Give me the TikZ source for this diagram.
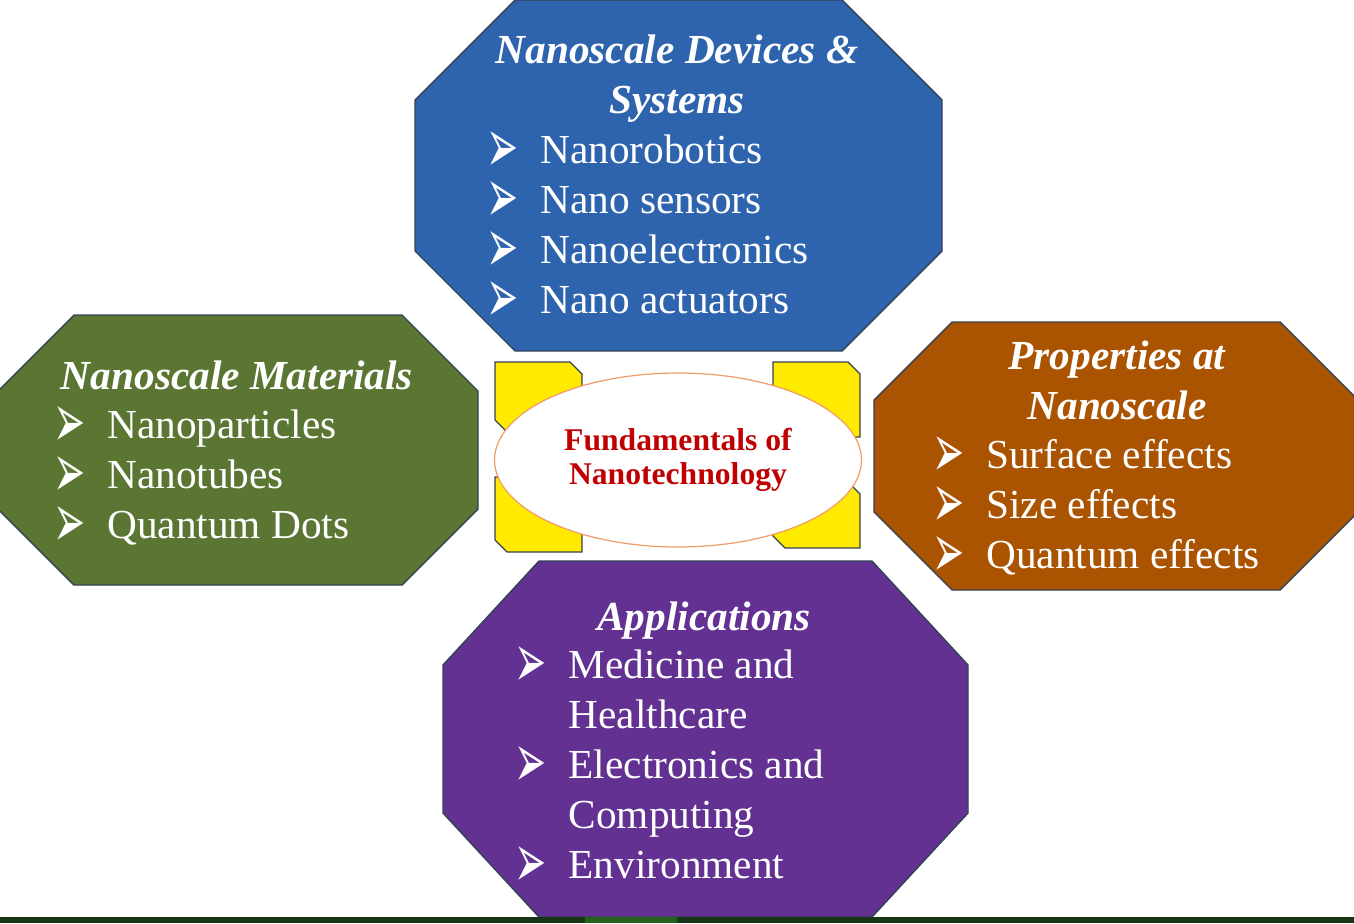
\documentclass[tikz,border=0pt]{standalone}
\usepackage{fontspec}
\setmainfont{Liberation Serif}
\newfontfamily\dingfont{DejaVu Sans}
\usetikzlibrary{positioning,matrix,shapes.geometric}

\definecolor{devblue}{RGB}{46,99,174}
\definecolor{matgreen}{RGB}{91,118,51}
\definecolor{propbrown}{RGB}{170,83,0}
\definecolor{apppurple}{RGB}{98,49,146}
\definecolor{snipyellow}{RGB}{255,234,0}
\definecolor{edgegrey}{RGB}{52,66,84}
\definecolor{hubline}{RGB}{238,158,105}
\definecolor{hubred}{RGB}{192,0,0}
\definecolor{bardark}{RGB}{24,52,22}
\definecolor{barlight}{RGB}{36,98,30}

\newcommand{\bul}{{\dingfont\fontsize{19}{19}\selectfont\raisebox{-0.19cm}[0pt][0pt]{\scalebox{1.15}[2.3]{➢}}}}

\tikzset{
	panel/.style={draw=edgegrey, line width=0.8pt, line join=miter},
	snip/.style={draw=edgegrey, fill=snipyellow, line width=0.7pt},
	head/.style={inner sep=0pt, text=white, font=\bfseries\itshape\fontsize{23.5}{28}\selectfont,
		text height=0.68cm, text depth=0.32cm, anchor=base},
	item/.style={inner sep=0pt, text=white, font=\fontsize{23.5}{28}\selectfont,
		text height=0.68cm, text depth=0.32cm, anchor=base west},
	list/.style={matrix of nodes, inner sep=0pt, row sep=0pt, column sep=0pt, anchor=north west,
		nodes={item}, column 1/.style={nodes={text width=1.08cm}}},
	hub/.style={ellipse, draw=hubline, fill=white, line width=0.7pt, inner sep=0pt,
		minimum width=7.34cm, minimum height=3.48cm, align=center, text=hubred,
		font=\bfseries\fontsize{18}{21.2}\selectfont},
}

\begin{document}
\begin{tikzpicture}[x=0.02cm, y=-0.02cm]
		\useasboundingbox (0,0) rectangle (1354,923);
		\clip (0,0) rectangle (1354,923);
		%% panels
		\draw[panel, fill=devblue] (515,0)--(842,0)--(942,100)--(942,251)--(842,351)--(515,351)--(415,251)--(415,100)--cycle;
		\draw[panel, fill=matgreen] (74,315)--(402,315)--(478,391)--(478,509)--(402,585)--(74,585)--(-2,509)--(-2,391)--cycle;
		\draw[panel, fill=propbrown] (952,322)--(1280,322)--(1358,400)--(1358,512)--(1280,590)--(952,590)--(874,512)--(874,400)--cycle;
		\draw[panel, fill=apppurple] (539,561)--(872,561)--(968,665)--(968,813)--(872,917)--(539,917)--(443,813)--(443,665)--cycle;
		%% centre
		\foreach \xa/\ya/\xb/\yb in {495/362/582/432, 773/362/860/437, 495/477/582/552, 773/482/860/548}
			\draw[snip] (\xa,\ya)--(\xb-12,\ya)--(\xb,\ya+12)--(\xb,\yb)--(\xa+12,\yb)--(\xa,\yb-12)--cycle;
		\node[hub] (hub) at (678,460) {\raisebox{-0.06cm}{Fundamentals of}\\Nanotechnology};
		%% devices
		\node[head] (devhead) at (677,63) {Nanoscale Devices \&};
		\node[head, below=0pt of devhead] (devhead2) {Systems};
		\matrix (devlist) [list] at (486,129)
		{
			\bul & Nanorobotics    \\
			\bul & Nano sensors    \\
			\bul & Nanoelectronics \\
			\bul & Nano actuators  \\
		};
		%% materials
		\node[head] (mathead) at (237,389) {Nanoscale Materials};
		\matrix (matlist) [list] at (53,404)
		{
			\bul & Nanoparticles \\
			\bul & Nanotubes     \\
			\bul & Quantum Dots  \\
		};
		%% properties
		\node[head] (prophead) at (1117,369) {Properties at};
		\node[head, below=0pt of prophead] (prophead2) {Nanoscale};
		\matrix (proplist) [list] at (932,434)
		{
			\bul & Surface effects \\
			\bul & Size effects    \\
			\bul & Quantum effects \\
		};
		%% applications
		\node[head] (apphead) at (704,630) {Applications};
		\matrix (applist) [list] at (514,644)
		{
			\bul & Medicine and    \\
			     & Healthcare      \\
			\bul & Electronics and \\
			     & Computing       \\
			\bul & Environment     \\
		};
		%% strip
		\fill[bardark] (0,917) rectangle (1354,923);
		\fill[barlight] (585,917) rectangle (677,923);
	\end{tikzpicture}
\end{document}
